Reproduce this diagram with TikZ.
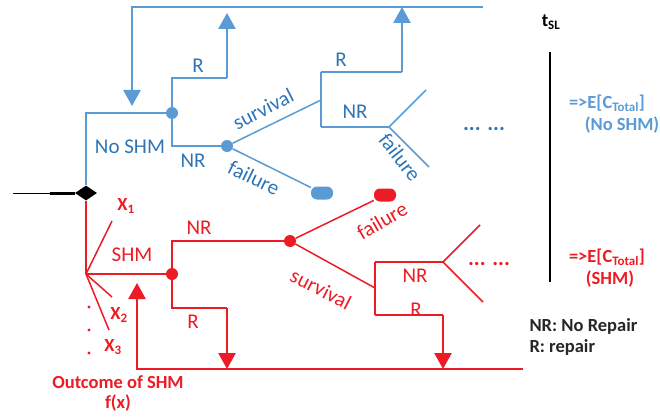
\documentclass[tikz,border=0pt]{standalone}
\usepackage{fontspec}
\setmainfont{Carlito}
\usetikzlibrary{arrows.meta, shapes.geometric}
\definecolor{shmblue}{RGB}{91,155,213}
\definecolor{lblblue}{RGB}{46,117,182}
\definecolor{shmred}{RGB}{237,28,36}
\definecolor{keygray}{RGB}{38,38,38}
\tikzset{
  bline/.style={draw=shmblue,line width=1.5pt},
  barrow/.style={draw=shmblue,line width=2.5pt,-{Triangle[length=16pt,width=17pt,fill=shmblue]}},
  rline/.style={draw=shmred,line width=1.5pt},
  rarrow/.style={draw=shmred,line width=2.5pt,-{Triangle[length=16pt,width=17pt,fill=shmred]}},
  chance/.style={circle,inner sep=0pt,minimum size=12pt},
  pill/.style={rectangle,rounded corners=6pt,inner sep=0pt,minimum width=22pt,minimum height=13pt},
  boldtext/.style={font=\fontsize{18.5}{21}\selectfont\bfseries}
}
\begin{document}
\begin{tikzpicture}[x=1pt,y=-1pt,font=\fontsize{21}{24}\selectfont]
\useasboundingbox (0,0) rectangle (660,417);

% decision and chance nodes
\node (dec) at (86,193) [diamond,fill=black,inner sep=0pt,minimum width=22pt,minimum height=15pt] {};
\begin{scope}[every node/.style={chance,fill=shmblue}]
    \node (b1) at (172,113) {};
    \node (b2) at (227,146) {};
\end{scope}
\begin{scope}[every node/.style={chance,fill=shmred}]
    \node (r1) at (172,274) {};
    \node (r2) at (290,241) {};
\end{scope}
\node (bf) at (322,193) [pill,fill=shmblue] {};
\node (rf) at (385,195) [pill,fill=shmred] {};

% corner points
\coordinate (btl) at (132,7);
\coordinate (btr) at (483,7);
\coordinate (bret) at (132,106);
\coordinate (bRc) at (227,78);
\coordinate (bRt) at (227,13);
\coordinate (bs) at (321,100);
\coordinate (bs1) at (321,72);
\coordinate (bs2) at (321,127);
\coordinate (bR2c) at (402,72);
\coordinate (bR2t) at (402,7);
\coordinate (bfork) at (389,127);
\coordinate (bup) at (426,90);
\coordinate (bdown) at (429,167);

\coordinate (rfan) at (86,274);
\coordinate (x1) at (112,221);
\coordinate (x2) at (112,297);
\coordinate (x3) at (109,330);
\coordinate (rRc) at (227,308);
\coordinate (rRt) at (227,369);
\coordinate (rbl) at (137,369);
\coordinate (rbr) at (523,369);
\coordinate (rret) at (137,283);
\coordinate (rs) at (375,288);
\coordinate (rs1) at (375,262);
\coordinate (rs2) at (375,315);
\coordinate (rfork) at (443,262);
\coordinate (rup) at (480,225);
\coordinate (rdown) at (483,302);
\coordinate (rR2c) at (443,315);
\coordinate (rR2t) at (443,369);

\coordinate (start) at (13,193);
\coordinate (mid) at (50,193);
\coordinate (ttop) at (550,52);
\coordinate (tbot) at (550,282);

% black stem and time line
\draw [black,line width=1pt] (start) -- (mid);
\draw [black,line width=3pt] (mid) -- (dec.west);
\draw [black,line width=2pt] (ttop) -- (tbot);

% no SHM branch
\draw [bline] (dec.north) |- (b1);
\draw [bline] (b1) |- (bRc);
\draw [barrow] (bRc) -- (bRt);
\draw [barrow] (btr) -- (btl) -- (bret);
\draw [bline] (b1) |- (b2);
\draw [bline] (b2) -- (bs);
\draw [bline] (b2) -- (bf);
\draw [bline] (bs1) -- (bs2);
\draw [bline] (bs1) -- (bR2c);
\draw [barrow] (bR2c) -- (bR2t);
\draw [bline] (bs2) -- (bfork);
\draw [bline] (bfork) -- (bup);
\draw [bline] (bfork) -- (bdown);

% SHM branch
\draw [rline] (dec.south) -- (rfan);
\draw [rline] (rfan) -- (x1);
\draw [rline] (rfan) -- (x2);
\draw [rline] (rfan) -- (x3);
\draw [rline] (rfan) -- (r1);
\draw [rline] (r1) |- (r2);
\draw [rline] (r1) |- (rRc);
\draw [rarrow] (rRc) -- (rRt);
\draw [rarrow] (rbr) -- (rbl) -- (rret);
\draw [rline] (r2) -- (rf);
\draw [rline] (r2) -- (rs);
\draw [rline] (rs1) -- (rs2);
\draw [rline] (rs1) -- (rfork);
\draw [rline] (rfork) -- (rup);
\draw [rline] (rfork) -- (rdown);
\draw [rline] (rs2) -- (rR2c);
\draw [rarrow] (rR2c) -- (rR2t);
\foreach \y in {307,330,353}
    \fill [shmred] (89,\y) circle (1.6pt);

% labels
\begin{scope}[every node/.style={text=lblblue,inner sep=1pt}]
    \node (lb1) at (198,66) {R};
    \node (lb2) at (130,147) {No SHM};
    \node (lb3) at (193,161) {NR};
    \node (lb4) at (263,109) [rotate=27] {survival};
    \node (lb5) at (254,178) [rotate=-26] {failure};
    \node (lb6) at (341,60) {R};
    \node (lb7) at (355,112) {NR};
    \node (lb8) at (400,157) [rotate=-52] {failure};
    \node (lb9) at (484,129) [font=\fontsize{22}{24}\selectfont\bfseries] {... ...};
\end{scope}
\begin{scope}[every node/.style={text=shmred,inner sep=1pt}]
    \node (lr1) at (132,255) {SHM};
    \node (lr2) at (199,228) {NR};
    \node (lr3) at (193,322) {R};
    \node (lr4) at (382,221) [rotate=30] {failure};
    \node (lr5) at (321,289) [rotate=-27] {survival};
    \node (lr6) at (415,276) {NR};
    \node (lr7) at (416,310) {R};
    \node (lr8) at (489,264) [font=\fontsize{22}{24}\selectfont\bfseries] {... ...};
\end{scope}
\begin{scope}[every node/.style={text=shmred,boldtext}]
    \node (lx1) at (126,206) {X\textsubscript{1}};
    \node (lx2) at (119,315) {X\textsubscript{2}};
    \node (lx3) at (113,347) {X\textsubscript{3}};
    \node (lout) at (118,382) {Outcome of SHM};
    \node (lfx) at (118,403) {f(x)};
    \node (lrE) at (607,257) {=>E[C\textsubscript{Total}]};
    \node (lrS) at (610,279) {(SHM)};
\end{scope}
\begin{scope}[every node/.style={text=shmblue,boldtext}]
    \node (lbE) at (607,103) {=>E[C\textsubscript{Total}]};
    \node (lbS) at (622,125) {(No SHM)};
\end{scope}
\node (tsl) at (551,22) [boldtext] {t\textsubscript{SL}};
\begin{scope}[every node/.style={text=keygray,anchor=west,boldtext}]
    \node (key1) at (526,326) {NR: No Repair};
    \node (key2) at (526,347) {R: repair};
\end{scope}
\end{tikzpicture}
\end{document}
